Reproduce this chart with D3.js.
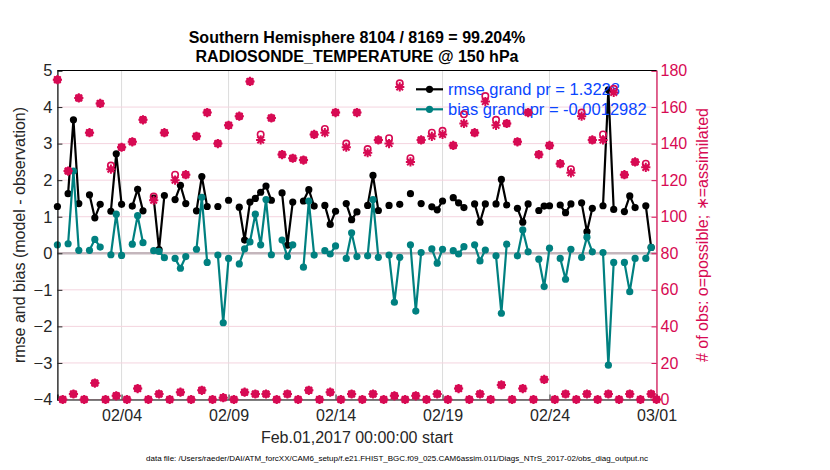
<!DOCTYPE html>
<html>
<head>
<meta charset="utf-8">
<script src="https://cdn.jsdelivr.net/npm/d3@7"></script>
<style>
  body { margin: 0; background: #fff; }
  text { font-family: "Liberation Sans", Arial, sans-serif; }
</style>
</head>
<body>
<svg id="chart" width="830" height="470"></svg>
<script>
// 6-hourly bins starting Feb 01 2017 00Z
var startTime = Date.UTC(2017, 1, 1, 0);
var stepHours = 6;

var rmse = [1.28,null,1.63,3.65,1.36,null,1.60,0.97,1.34,null,
            1.15,2.72,1.34,null,1.29,1.75,1.16,null,1.51,0.10,
            1.58,null,1.47,1.86,1.36,null,1.16,2.10,1.28,null,
            1.28,null,1.45,null,1.26,0.36,1.40,1.50,1.67,1.84,
            1.45,null,1.65,0.22,1.40,null,1.43,1.74,1.29,null,
            1.31,0.79,1.15,null,1.36,0.92,1.13,null,1.31,2.13,
            1.17,null,1.31,null,1.34,null,1.63,null,1.36,null,
            1.27,1.19,1.43,null,1.52,1.38,1.25,null,1.35,0.85,
            1.35,null,1.35,2.02,1.32,null,1.23,0.85,1.35,null,
            1.17,1.29,1.30,null,1.32,1.11,1.35,null,1.38,0.59,
            1.23,null,1.30,4.47,1.20,null,1.14,1.57,1.25,null,
            1.30,0.16,null];

var bias = [0.23,null,0.26,2.25,0.08,null,0.08,0.38,0.17,null,
            -0.04,1.07,-0.06,null,0.25,1.03,0.29,null,0.07,0.05,
            -0.12,null,-0.14,-0.41,-0.09,null,0.11,1.53,-0.25,null,
            -0.05,-1.90,-0.14,null,-0.29,0.12,0.31,1.07,0.23,1.47,
            -0.04,null,0.36,-0.09,0.23,null,-0.38,1.43,-0.05,null,
            0.07,-0.02,0.20,null,-0.14,0.56,-0.09,null,-0.07,1.47,
            -0.11,null,-0.05,-1.34,-0.11,null,0.23,-1.58,0.02,null,
            0.12,-0.27,0.11,null,0.07,-0.02,0.18,null,0.23,-0.21,
            0.09,null,-0.07,-1.64,0.25,null,-0.07,0.64,0.04,null,
            -0.16,-0.91,0.14,null,-0.14,-0.71,0.11,null,-0.11,0.44,
            0.04,null,0.02,-3.06,-0.25,null,-0.25,-1.05,-0.14,null,
            -0.14,0.16,null];

var nUsed = [175,0,125,3,165,0,146,9,162,0,
             126,2,138,0,141,6,153,0,109,3,
             146,0,120,4,123,0,144,5,157,0,
             140,1,150,0,155,4,174,3,142,3,
             154,0,134,3,132,0,131,5,145,0,
             146,4,157,0,138,3,157,0,135,3,
             142,0,140,2,171,0,130,2,142,0,
             144,3,145,0,139,6,151,0,146,3,
             163,0,150,8,151,0,141,6,157,0,
             134,11,139,0,129,3,124,0,155,3,
             142,0,142,3,168,0,123,3,130,0,
             127,3,0];

var nPoss = [175,0,125,3,165,0,146,9,162,0,
             128,2,138,0,141,6,153,0,111,3,
             146,0,123,4,123,0,144,5,157,0,
             140,1,150,0,155,4,174,3,145,3,
             154,0,134,3,132,0,131,5,145,0,
             148,4,157,0,140,3,157,0,137,3,
             142,0,143,2,173,0,132,2,142,0,
             146,3,147,0,139,6,156,0,146,3,
             166,0,153,8,151,0,141,6,157,0,
             134,11,139,0,129,3,126,0,157,3,
             142,0,145,3,170,0,123,3,130,0,
             129,3,0];

var tickDates = ["2017-02-04","2017-02-09","2017-02-14","2017-02-19","2017-02-24","2017-03-01"];
var tickLabels = ["02/04","02/09","02/14","02/19","02/24","03/01"];
var leftTicks = [-4,-3,-2,-1,0,1,2,3,4,5];
var rightTicks = [0,20,40,60,80,100,120,140,160,180];

var titleLines = ["Southern Hemisphere 8104 / 8169 = 99.204%", "RADIOSONDE_TEMPERATURE @ 150 hPa"];
var legendLabels = ["rmse grand pr = 1.3228", "bias grand pr = -0.0012982"];

var crimson = "#d70a53", teal = "#008080", blue = "#0a46ff";

var svg = d3.select("#chart");
var pLeft = 57.4, pRight = 656.5, pTop = 70.5, pBottom = 399.5;

var times = rmse.map(function (d, i) { return new Date(startTime + i * stepHours * 3600e3); });

var x = d3.scaleUtc().domain([new Date(startTime), new Date(Date.UTC(2017, 2, 1, 0))]).range([pLeft, pRight]);
var yL = d3.scaleLinear().domain([-4, 5]).range([pBottom, pTop]);
var yR = d3.scaleLinear().domain([0, 180]).range([pBottom, pTop]);
var tickT = tickDates.map(function (s) { return new Date(s + "T00:00:00Z"); });

// grid
svg.append("g").selectAll("line").data(tickT).enter().append("line")
  .attr("x1", function (d) { return x(d); }).attr("x2", function (d) { return x(d); })
  .attr("y1", pTop).attr("y2", pBottom)
  .attr("stroke", "#dcdcdc").attr("stroke-width", 1);
svg.append("g").selectAll("line").data(rightTicks).enter().append("line")
  .attr("x1", pLeft).attr("x2", pRight)
  .attr("y1", function (d) { return yR(d); }).attr("y2", function (d) { return yR(d); })
  .attr("stroke", "#f4d4df").attr("stroke-width", 1);

// zero line
svg.append("line").attr("x1", pLeft).attr("x2", pRight)
  .attr("y1", yL(0)).attr("y2", yL(0))
  .attr("stroke", "#c4b6bc").attr("stroke-width", 2.5);

function series(vals, color) {
  var pts = vals.map(function (v, i) { return { t: times[i], v: v }; });
  var line = d3.line().defined(function (d) { return d.v != null; })
    .x(function (d) { return x(d.t); }).y(function (d) { return yL(d.v); });
  svg.append("path").datum(pts).attr("d", line)
    .attr("fill", "none").attr("stroke", color).attr("stroke-width", 2.2);
  svg.append("g").selectAll("circle").data(pts.filter(function (d) { return d.v != null; }))
    .enter().append("circle")
    .attr("cx", function (d) { return x(d.t); }).attr("cy", function (d) { return yL(d.v); })
    .attr("r", 3.6).attr("fill", color);
}
series(rmse, "#000");
series(bias, teal);

// axes
var xAxis = d3.axisBottom(x).tickValues(tickT).tickSize(-5).tickFormat(function (d, i) { return tickLabels[i]; });
var gx = svg.append("g").attr("transform", "translate(0," + pBottom + ")").call(xAxis);
gx.select(".domain").attr("stroke", "#000").attr("stroke-width", 1.2);
gx.selectAll("text").attr("font-size", 16).attr("fill", "#262626").attr("dy", "1.15em");
gx.selectAll(".tick line").attr("stroke", "#262626");

var gl = svg.append("g").attr("transform", "translate(" + pLeft + ",0)")
  .call(d3.axisLeft(yL).tickValues(leftTicks).tickSize(-5).tickPadding(5));
gl.select(".domain").attr("stroke", "#000").attr("stroke-width", 1.2);
gl.selectAll("text").attr("font-size", 16.5).attr("fill", "#262626");
gl.selectAll(".tick line").attr("stroke", "#262626");

var gr = svg.append("g").attr("transform", "translate(" + pRight + ",0)")
  .call(d3.axisRight(yR).tickValues(rightTicks).tickSize(-5).tickPadding(4));
gr.select(".domain").attr("stroke", crimson).attr("stroke-width", 1.2);
gr.selectAll("text").attr("font-size", 16).attr("fill", crimson);
gr.selectAll(".tick line").attr("stroke", crimson);

svg.append("line").attr("x1", pLeft).attr("x2", pRight).attr("y1", pTop).attr("y2", pTop)
  .attr("stroke", "#000").attr("stroke-width", 1);

// legend
var legY = [89.3, 109.3];
[["#000", 0], [teal, 1]].forEach(function (p) {
  var g = svg.append("g");
  g.append("line").attr("x1", 416).attr("x2", 443).attr("y1", legY[p[1]]).attr("y2", legY[p[1]])
    .attr("stroke", p[0]).attr("stroke-width", 2.2);
  g.append("circle").attr("cx", 429.5).attr("cy", legY[p[1]]).attr("r", 3.6).attr("fill", p[0]);
  g.append("text").attr("x", 448).attr("y", legY[p[1]] + 6).attr("font-size", 16.5)
    .attr("fill", blue).text(legendLabels[p[1]]);
});

// obs counts (right axis)
var star = "M-4.6,0H4.6M0,-4.6V4.6M-3.3,-3.3L3.3,3.3M-3.3,3.3L3.3,-3.3";
var og = svg.append("g");
og.selectAll("circle").data(nPoss).enter().append("circle")
  .attr("cx", function (d, i) { return x(times[i]); }).attr("cy", function (d) { return yR(d); })
  .attr("r", 3.2).attr("fill", "none").attr("stroke", crimson).attr("stroke-width", 1.6);
og.selectAll("path").data(nUsed).enter().append("path")
  .attr("d", star)
  .attr("transform", function (d, i) { return "translate(" + x(times[i]) + "," + yR(d) + ")"; })
  .attr("stroke", crimson).attr("stroke-width", 2);

// titles and labels
svg.append("text").attr("x", 357).attr("y", 43).attr("text-anchor", "middle")
  .attr("font-size", 16).attr("font-weight", "bold").text(titleLines[0]);
svg.append("text").attr("x", 357).attr("y", 62).attr("text-anchor", "middle")
  .attr("font-size", 16).attr("font-weight", "bold").text(titleLines[1]);

svg.append("text").attr("transform", "translate(25," + yL(0.5) + ") rotate(-90)")
  .attr("text-anchor", "middle").attr("font-size", 16).attr("fill", "#262626")
  .text("rmse and bias (model - observation)");
svg.append("text").attr("transform", "translate(708," + yL(0.5) + ") rotate(-90)")
  .attr("text-anchor", "middle").attr("font-size", 16).attr("fill", crimson)
  .text("# of obs: o=possible; \u2217=assimilated");

svg.append("text").attr("x", 357).attr("y", 443).attr("text-anchor", "middle")
  .attr("font-size", 16).attr("fill", "#262626").text("Feb.01,2017 00:00:00 start");
svg.append("text").attr("x", 397).attr("y", 461).attr("text-anchor", "middle")
  .attr("font-size", 8).attr("fill", "#000")
  .text("data file: /Users/raeder/DAI/ATM_forcXX/CAM6_setup/f.e21.FHIST_BGC.f09_025.CAM6assim.011/Diags_NTrS_2017-02/obs_diag_output.nc");
</script>
</body>
</html>
